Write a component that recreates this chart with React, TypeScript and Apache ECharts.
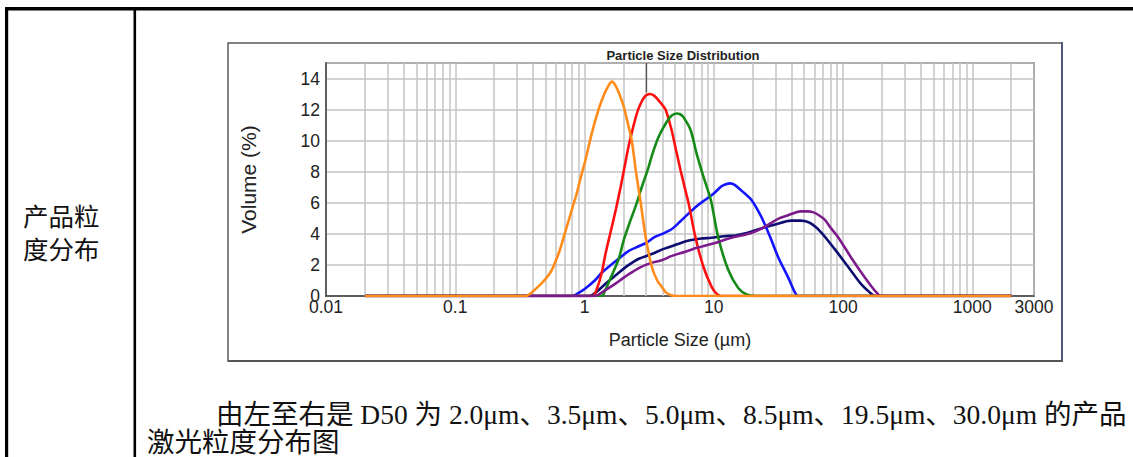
import React, { useEffect, useRef } from "react";
import * as echarts from "echarts";

// ---- data (particle size µm, volume %) ----
const d50_2_0: [number, number][] = [
  [0.02, 0], [0.35, 0], [0.38, 0.15], [0.45, 0.7], [0.5, 1.1], [0.56, 1.7], [0.64, 2.9], [0.72, 4.3], [0.8, 5.6],
  [0.87, 6.6], [0.94, 7.7], [1.02, 8.8], [1.14, 10.5], [1.25, 11.7], [1.36, 12.6], [1.5, 13.4], [1.63, 13.8],
  [1.75, 13.5], [1.88, 12.9], [2.01, 12.2], [2.15, 11.2], [2.32, 10.0], [2.49, 8.1], [2.72, 6.0], [2.97, 3.8],
  [3.31, 1.9], [3.65, 1.0], [3.95, 0.6], [4.3, 0.2], [4.7, 0.05], [5.0, 0], [2000, 0],
];
const d50_3_5: [number, number][] = [
  [0.02, 0], [1.15, 0], [1.25, 0.5], [1.35, 1.4], [1.46, 2.8], [1.6, 4.2], [1.75, 5.6], [1.9, 7.0], [2.05, 8.4],
  [2.2, 9.7], [2.4, 11.0], [2.6, 12.0], [2.9, 12.8], [3.2, 13.0], [3.45, 12.9], [3.74, 12.6], [4.0, 12.3],
  [4.24, 12.0], [4.71, 10.7], [5.1, 9.4], [5.53, 8.1], [6.03, 6.8], [6.37, 6.0], [7.2, 3.8], [8.3, 1.9],
  [9.6, 0.6], [10.5, 0.15], [11.4, 0], [2000, 0],
];
const d50_5_0: [number, number][] = [
  [0.02, 0], [1.35, 0], [1.45, 0.4], [1.6, 1.2], [1.84, 2.4], [2.01, 3.6], [2.25, 4.8], [2.49, 5.8], [2.77, 7.0],
  [3.13, 8.3], [3.31, 9.0], [3.6, 9.9], [3.87, 10.5], [4.32, 11.2], [4.7, 11.6], [5.15, 11.75], [5.5, 11.7],
  [5.84, 11.5], [6.6, 10.7], [7.35, 9.2], [8.3, 7.7], [9.0, 6.8], [9.6, 6.0], [10.8, 3.8], [12.9, 1.7],
  [15.5, 0.5], [18, 0.1], [20.9, 0], [2000, 0],
];
const d50_8_5: [number, number][] = [
  [0.02, 0], [0.8, 0], [0.9, 0.2], [1.02, 0.5], [1.2, 1.0], [1.36, 1.5], [1.6, 2.0], [1.84, 2.4], [2.2, 2.9],
  [2.63, 3.2], [2.97, 3.4], [3.5, 3.8], [4.0, 4.0], [4.71, 4.3], [5.5, 4.8], [6.37, 5.3], [7.4, 5.8], [8.6, 6.2],
  [10, 6.6], [11.4, 7.05], [12.4, 7.2], [13.4, 7.25], [14.5, 7.15], [16.3, 6.8], [19.5, 6.2], [23.3, 5.1],
  [27.3, 3.8], [31.5, 2.5], [37.6, 1.2], [42, 0.3], [44.9, 0], [2000, 0],
];
const d50_19_5: [number, number][] = [
  [0.02, 0], [1.08, 0], [1.25, 0.3], [1.46, 0.8], [1.84, 1.5], [2.2, 2.0], [2.63, 2.4], [3.31, 2.7], [4.0, 3.0],
  [4.71, 3.2], [5.7, 3.45], [6.7, 3.6], [8, 3.7], [9.6, 3.75], [12, 3.85], [14.7, 3.9], [18, 4.05], [22.1, 4.3],
  [29.8, 4.6], [39.6, 4.85], [47.3, 4.85], [55.5, 4.7], [67.6, 4.1], [86.5, 3.0], [109, 1.9], [137, 0.8],
  [160, 0.25], [176, 0], [2000, 0],
];
const d50_30_0: [number, number][] = [
  [0.02, 0], [1.2, 0], [1.4, 0.3], [1.6, 0.6], [1.84, 0.95], [2.2, 1.4], [2.63, 1.8], [3.2, 2.1], [3.95, 2.3],
  [4.8, 2.6], [6.03, 2.85], [7.4, 3.1], [9.08, 3.3], [11, 3.5], [13.7, 3.75], [16.5, 3.9], [19.5, 4.05], [23, 4.3],
  [27.8, 4.7], [32, 5.0], [37.6, 5.2], [42, 5.35], [47.3, 5.45], [53, 5.45], [58.5, 5.4], [65, 5.2], [72.4, 4.9],
  [80, 4.4], [91.3, 3.8], [115, 2.5], [147, 1.2], [170, 0.5], [185, 0.15], [195, 0], [2000, 0],
];

const minorGridValues = [
  0.02, 0.03, 0.04, 0.05, 0.06, 0.07, 0.08, 0.09,
  0.2, 0.3, 0.4, 0.5, 0.6, 0.7, 0.8, 0.9,
  2, 3, 4, 5, 6, 7, 8, 9,
  20, 30, 40, 50, 60, 70, 80, 90,
  200, 300, 400, 500, 600, 700, 800, 900,
  2000,
];
const cursorSegment: [number, number][] = [[3, 15], [3, 13.1]];

const chartTitle = "Particle Size Distribution";
const xName = "Particle Size (µm)";
const yName = "Volume (%)";
const rowLabel1 = "产品粒";
const rowLabel2 = "度分布";
const caption1 = "由左至右是 D50 为 2.0μm、3.5μm、5.0μm、8.5μm、19.5μm、30.0μm 的产品";
const caption2 = "激光粒度分布图";

const seriesDefs = [
  { name: "D50 19.5", data: d50_19_5, color: "#0e0e72" },
  { name: "D50 8.5", data: d50_8_5, color: "#1414ff" },
  { name: "D50 3.5", data: d50_3_5, color: "#ff1010" },
  { name: "D50 5.0", data: d50_5_0, color: "#168a16" },
  { name: "D50 30.0", data: d50_30_0, color: "#7d1a8c" },
  { name: "D50 2.0", data: d50_2_0, color: "#ff8c1a" },
];

const SANS = "'Liberation Sans', Arial, sans-serif";
const SERIF = "'Liberation Serif', 'Noto Sans CJK SC', serif";

export default function App() {
  const ref = useRef<HTMLDivElement>(null);
  useEffect(() => {
    if (!ref.current) return;
    const chart = echarts.init(ref.current, undefined, { renderer: "svg" });
    const gridColor = "#c4c4c4";
    const series: any[] = seriesDefs.map((s, i) => ({
      name: s.name,
      type: "line",
      data: s.data,
      showSymbol: false,
      symbol: "none",
      smooth: 0.3,
      lineStyle: { color: s.color, width: 2.6 },
      itemStyle: { color: s.color },
      z: 3 + i,
      ...(i === 0
        ? {
            markLine: {
              silent: true,
              symbol: "none",
              z: 1,
              label: { show: false },
              lineStyle: { color: gridColor, width: 1.5, type: "solid" },
              data: [
                ...minorGridValues.map((v) => ({ xAxis: v })),
                [
                  { coord: cursorSegment[0], lineStyle: { color: "#555", width: 1.3, type: "solid" } },
                  { coord: cursorSegment[1] },
                ],
              ],
            },
          }
        : {}),
    }));

    chart.setOption({
      animation: false,
      backgroundColor: "#ffffff",
      grid: {
        left: 326,
        top: 63,
        right: 1133 - 1034,
        bottom: 457 - 296,
        show: true,
        borderColor: "#444",
        borderWidth: 1.5,
        backgroundColor: "transparent",
      },
      xAxis: {
        type: "log",
        logBase: 10,
        min: 0.01,
        max: 3000,
        name: xName,
        nameLocation: "middle",
        nameGap: 35,
        nameTextStyle: { fontSize: 18, color: "#222", fontFamily: SANS },
        axisLine: { show: true, lineStyle: { color: "#444", width: 1.5 } },
        axisTick: { show: false },
        axisLabel: {
          fontSize: 17.5,
          color: "#222",
          fontFamily: SANS,
          margin: 2,
          showMinLabel: true,
          showMaxLabel: true,
          formatter: (v: number) => String(Number(v.toPrecision(6))),
        },
        splitLine: { show: true, lineStyle: { color: gridColor, width: 1.5 } },
      },
      yAxis: {
        type: "value",
        min: 0,
        max: 15,
        interval: 2,
        name: yName,
        nameLocation: "middle",
        nameGap: 67,
        nameTextStyle: { fontSize: 21, color: "#222", fontFamily: SANS },
        axisLine: { show: true, lineStyle: { color: "#444", width: 1.5 } },
        axisTick: { show: false },
        axisLabel: {
          fontSize: 17.5,
          color: "#222",
          fontFamily: SANS,
          margin: 6,
          showMaxLabel: false,
        },
        splitLine: { show: true, lineStyle: { color: gridColor, width: 1.5 } },
      },
      series,
      graphic: [
        // table borders
        { type: "rect", shape: { x: 5, y: 7, width: 1140, height: 3.5 }, style: { fill: "#000" }, z: 10 },
        { type: "rect", shape: { x: 5, y: 7, width: 3.2, height: 460 }, style: { fill: "#000" }, z: 10 },
        { type: "rect", shape: { x: 133.5, y: 7, width: 2.6, height: 460 }, style: { fill: "#000" }, z: 10 },
        // chart outer frame
        {
          type: "rect",
          shape: { x: 228, y: 43, width: 834, height: 318 },
          style: { fill: "none", stroke: "#5a5a5a", lineWidth: 1.5 },
          z: 10,
        },
        { type: "line", shape: { x1: 1062, y1: 42, x2: 1062, y2: 362 }, style: { stroke: "#4a5a7c", lineWidth: 2 }, z: 11 },
        { type: "line", shape: { x1: 228, y1: 361, x2: 1062, y2: 361 }, style: { stroke: "#555", lineWidth: 2 }, z: 11 },
        // chart title
        {
          type: "text",
          x: 683,
          y: 55,
          style: {
            text: chartTitle,
            font: `bold 13px ${SANS}`,
            fill: "#222",
            align: "center",
            verticalAlign: "middle",
          },
          z: 12,
        },
        // left column
        {
          type: "text",
          x: 23,
          y: 217,
          style: { text: rowLabel1, font: `25.5px ${SERIF}`, fill: "#111", align: "left", verticalAlign: "middle" },
          z: 12,
        },
        {
          type: "text",
          x: 23,
          y: 250,
          style: { text: rowLabel2, font: `25.5px ${SERIF}`, fill: "#111", align: "left", verticalAlign: "middle" },
          z: 12,
        },
        // caption
        {
          type: "text",
          x: 216,
          y: 414,
          style: { text: caption1, font: `27.5px ${SERIF}`, fill: "#111", align: "left", verticalAlign: "middle" },
          z: 12,
        },
        {
          type: "text",
          x: 147,
          y: 442,
          style: { text: caption2, font: `27.5px ${SERIF}`, fill: "#111", align: "left", verticalAlign: "middle" },
          z: 12,
        },
      ],
    });
    return () => chart.dispose();
  }, []);
  return (
    <div
      ref={ref}
      style={{ position: "absolute", left: 0, top: 0, width: 1133, height: 457, background: "#fff" }}
    />
  );
}
